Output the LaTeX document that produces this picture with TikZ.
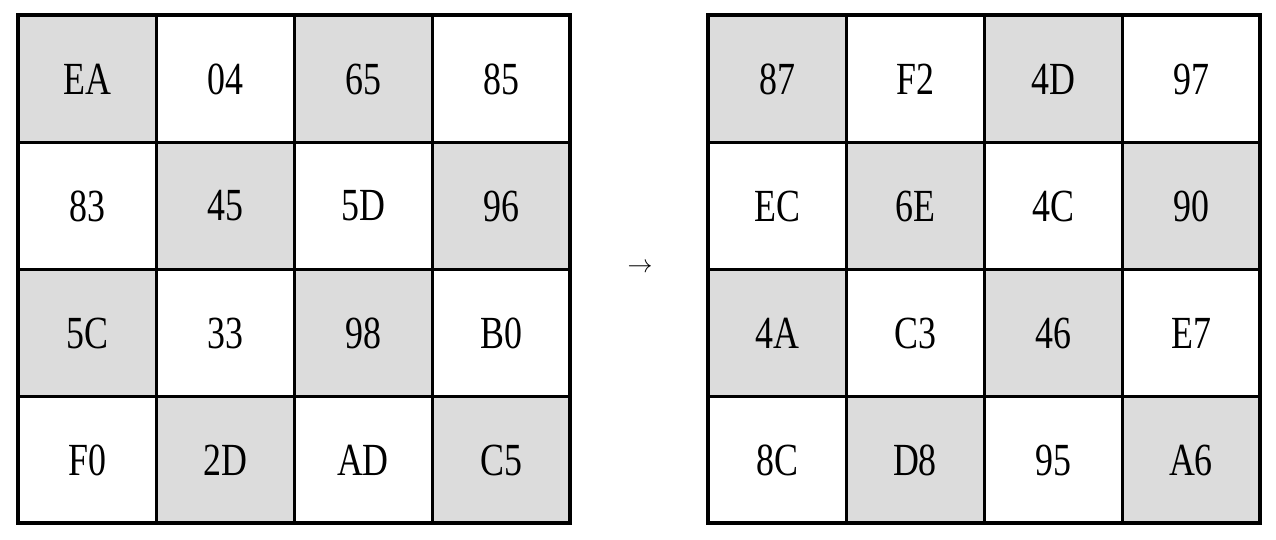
\documentclass[tikz,border=0pt]{standalone}
\usepackage{fontspec}
\setmainfont{Liberation Serif}
\newfontfamily\cellfont[FakeStretch=0.78]{Liberation Serif}
\definecolor{cellgray}{HTML}{DCDCDC}
\tikzset{
  cellbox/.style={draw=black,line width=3pt,minimum width=138pt,minimum height=127pt,
    inner sep=0pt,font=\cellfont\fontsize{46}{52}\selectfont},
  shaded/.style={fill=cellgray}
}
\begin{document}
\begin{tikzpicture}[x=1pt,y=-1pt]
\useasboundingbox (0,0) rectangle (1276,540);
% left state
\foreach \txt [count=\i from 0] in {EA,04,65,85,83,45,5D,96,5C,33,98,B0,F0,2D,AD,C5}{
  \pgfmathtruncatemacro{\r}{int(\i/4)}
  \pgfmathtruncatemacro{\c}{mod(\i,4)}
  \pgfmathtruncatemacro{\s}{mod(\r+\c,2)}
  \ifnum\s=0
    \node[cellbox,shaded] (L\i) at (87+138*\c,79+127*\r) {\txt};
  \else
    \node[cellbox] (L\i) at (87+138*\c,79+127*\r) {\txt};
  \fi
}
\draw[line width=4pt] (18,15) rectangle (570,523);
% arrow
\node[font=\fontsize{44}{48}\selectfont] (arr) at (640,268) {$\rightarrow$};
% right state
\foreach \txt [count=\i from 0] in {87,F2,4D,97,EC,6E,4C,90,4A,C3,46,E7,8C,D8,95,A6}{
  \pgfmathtruncatemacro{\r}{int(\i/4)}
  \pgfmathtruncatemacro{\c}{mod(\i,4)}
  \pgfmathtruncatemacro{\s}{mod(\r+\c,2)}
  \ifnum\s=0
    \node[cellbox,shaded] (R\i) at (777+138*\c,79+127*\r) {\txt};
  \else
    \node[cellbox] (R\i) at (777+138*\c,79+127*\r) {\txt};
  \fi
}
\draw[line width=4pt] (708,15) rectangle (1260,523);
\end{tikzpicture}
\end{document}
